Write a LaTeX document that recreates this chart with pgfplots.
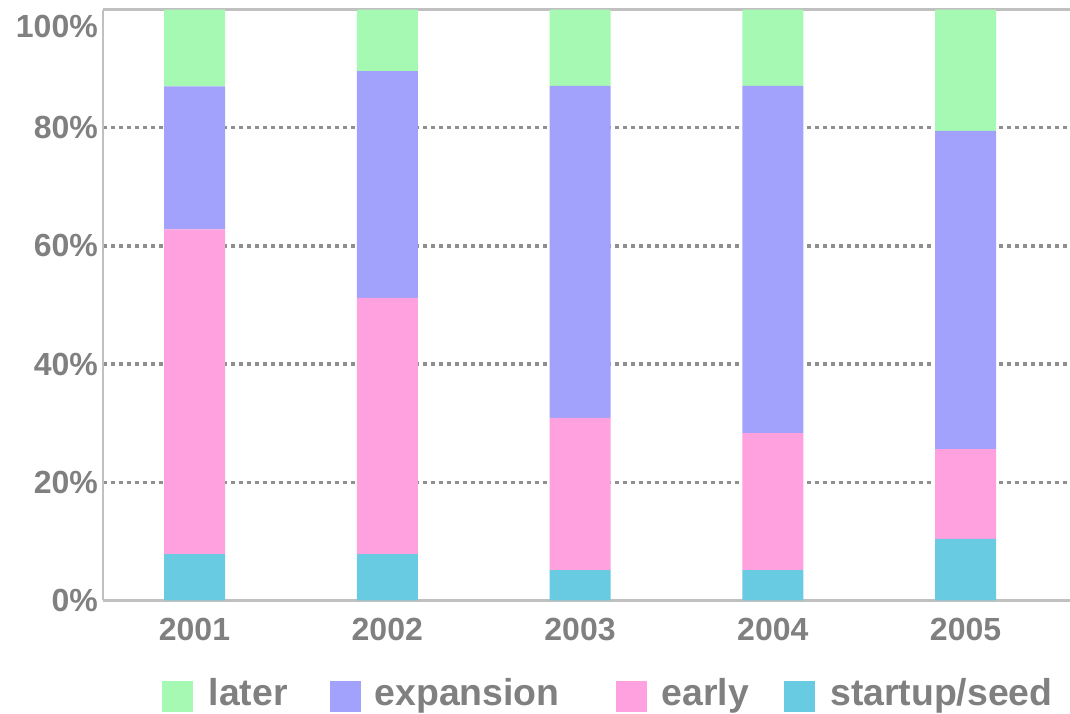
\documentclass[border=0pt]{standalone}
\usepackage{fontspec}
\setmainfont{Liberation Sans}
\usepackage{pgfplots}
\pgfplotsset{compat=1.18}
\definecolor{laterc}{HTML}{A6F9B2}
\definecolor{expc}{HTML}{A2A2FD}
\definecolor{earlyc}{HTML}{FFA0DF}
\definecolor{seedc}{HTML}{69CBE1}
\definecolor{txtc}{HTML}{808080}
\definecolor{axc}{HTML}{C0C0C0}
\definecolor{gridc}{HTML}{8F8F8F}
\begin{document}
\begin{tikzpicture}
\useasboundingbox (0,0) rectangle (1070pt,713pt);
\begin{axis}[
  at={(103pt,112.7pt)}, anchor=south west,
  scale only axis, width=968pt, height=590.6pt,
  ybar stacked, bar width=61pt,
  xmin=-0.4747, xmax=4.547, ymin=0, ymax=100,
  axis x line*=box, axis y line*=left,
  axis line style={axc, line width=2.7pt},
  xtick={0,...,4}, xticklabels={2001,2002,2003,2004,2005},
  ytick={20,40,60,80}, yticklabels={20\%,40\%,60\%,80\%},
  extra y ticks={0,97.2}, extra y tick labels={0\%,100\%},
  extra y tick style={grid=none},
  ymajorgrids, grid style={gridc, line width=3.3pt, dash pattern=on 4pt off 4pt},
  major tick length=0pt,
  tick label style={font=\fontsize{32}{36}\selectfont\bfseries, text=txtc},
  xticklabel style={inner sep=0pt, anchor=north, yshift=-18pt},
  yticklabel style={inner sep=0pt, anchor=east, xshift=-5pt},
]
\addplot[fill=seedc, draw=none] coordinates {(0,7.8) (1,7.8) (2,5.1) (3,5.1) (4,10.4)};
\addplot[fill=earlyc, draw=none] coordinates {(0,55.0) (1,43.4) (2,25.8) (3,23.2) (4,15.2)};
\addplot[fill=expc, draw=none] coordinates {(0,24.2) (1,38.4) (2,56.2) (3,58.8) (4,53.9)};
\addplot[fill=laterc, draw=none] coordinates {(0,13.0) (1,10.4) (2,12.9) (3,12.9) (4,20.5)};
\end{axis}
\tikzset{legtxt/.style={anchor=base west, inner sep=0pt, text=txtc, font=\fontsize{37.4}{42}\selectfont\bfseries}}
\fill[laterc] (162pt,1pt) rectangle (193pt,32pt);
\node[legtxt] at (208.5pt,7.3pt) {later};
\fill[expc] (330pt,1pt) rectangle (361pt,32pt);
\node[legtxt] at (374.5pt,7.3pt) {expansion};
\fill[earlyc] (616pt,1pt) rectangle (647pt,32pt);
\node[legtxt] at (661.5pt,7.3pt) {early};
\fill[seedc] (784pt,1pt) rectangle (815pt,32pt);
\node[legtxt] at (830pt,7.3pt) {startup/seed};
\end{tikzpicture}
\end{document}
